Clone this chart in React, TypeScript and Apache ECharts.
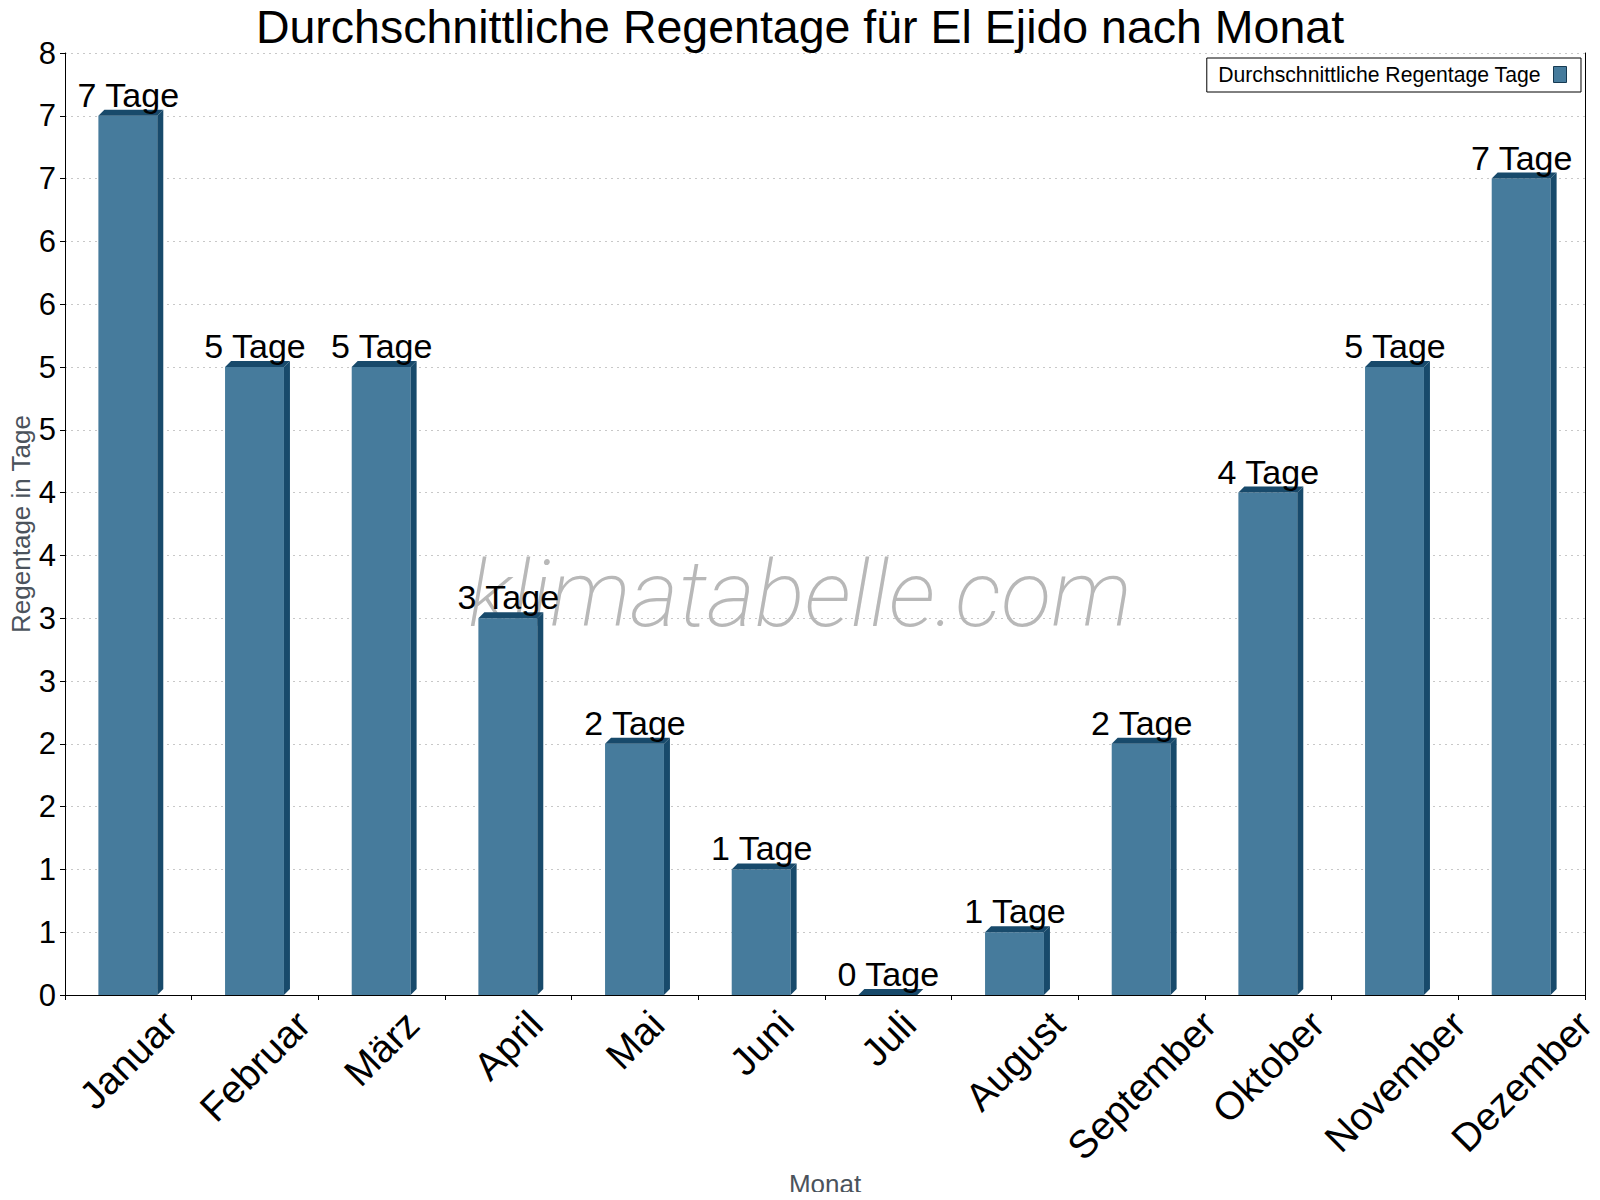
import React, { useEffect, useRef } from "react";
import * as echarts from "echarts";

// Average number of rainy days per month in El Ejido
const months = [
  "Januar", "Februar", "März", "April", "Mai", "Juni",
  "Juli", "August", "September", "Oktober", "November", "Dezember",
];
const rainDays = [7, 5, 5, 3, 2, 1, 0, 0.5, 2, 4, 5, 6.5];

const seriesName = "Durchschnittliche Regentage Tage";
const chartTitle = "Durchschnittliche Regentage für El Ejido nach Monat";
const yAxisName = "Regentage in Tage";
const xAxisName = "Monat";
const watermark = "klimatabelle.com";

const yMin = 0;
const yMax = 7.5;
const yStep = 0.5;

const FONT = "'Liberation Sans', Arial, Helvetica, sans-serif";
const FRONT = "#467b9c";
const SIDE = "#184a6b";
const DEPTH = 6;
const MONTH_FONT = 39;
const VALUE_FONT = 34;

let measureCtx: CanvasRenderingContext2D | null = null;
function textWidth(text: string, size: number): number {
  if (!measureCtx) {
    measureCtx = document.createElement("canvas").getContext("2d");
  }
  if (!measureCtx) return text.length * size * 0.55;
  measureCtx.font = `${size}px ${FONT}`;
  return measureCtx.measureText(text).width;
}

export default function App() {
  const ref = useRef<HTMLDivElement>(null);

  useEffect(() => {
    if (!ref.current) return;
    const chart = echarts.init(ref.current, undefined, { renderer: "svg" });

    const renderItem = (params: any, api: any) => {
      const idx = api.value(0) as number;
      const val = api.value(1) as number;
      const top = api.coord([idx, val]);
      const base = api.coord([idx, 0]);
      const band = api.size([1, 0])[0];
      const w = band * 0.465;
      const cx = base[0];
      const L = cx - w / 2 - 0.5;
      const R = L + w;
      const ty = top[1];
      const by = base[1];
      const name = months[idx];
      const nameLen = textWidth(name, MONTH_FONT);
      return {
        type: "group",
        children: [
          {
            type: "rect",
            shape: { x: L, y: ty, width: w, height: by - ty },
            style: { fill: FRONT },
          },
          {
            type: "polygon",
            shape: { points: [[R, ty], [R + DEPTH, ty - DEPTH], [R + DEPTH, by - DEPTH], [R, by]] },
            style: { fill: SIDE },
          },
          {
            type: "polygon",
            shape: { points: [[L, ty], [L + DEPTH, ty - DEPTH], [R + DEPTH, ty - DEPTH], [R, ty]] },
            style: { fill: SIDE },
          },
          {
            type: "text",
            x: cx,
            y: ty - DEPTH + 2,
            style: {
              text: `${Math.round(val)} Tage`,
              align: "center",
              verticalAlign: "bottom",
              fontSize: VALUE_FONT,
              fontFamily: FONT,
              fill: "#000",
            },
          },
          {
            type: "text",
            x: cx,
            y: by + 9 + (nameLen + MONTH_FONT) * 0.3536,
            rotation: Math.PI / 4,
            style: {
              text: name,
              align: "center",
              verticalAlign: "middle",
              fontSize: MONTH_FONT,
              fontFamily: FONT,
              fill: "#000",
            },
          },
        ],
      };
    };

    chart.setOption({
      animation: false,
      backgroundColor: "#fff",
      title: {
        text: chartTitle,
        left: "center",
        top: 3,
        padding: 0,
        textStyle: {
          fontSize: 46.5,
          fontWeight: "normal",
          color: "#000",
          fontFamily: FONT,
        },
      },
      legend: {
        right: 19,
        top: 58,
        align: "right",
        orient: "horizontal",
        backgroundColor: "#fff",
        borderColor: "#000",
        borderWidth: 1,
        padding: [6, 14, 7, 11],
        itemWidth: 13,
        itemHeight: 16,
        textStyle: { fontSize: 21.2, color: "#000", fontFamily: FONT, padding: [0, 8, 0, 0] },
        data: [
          {
            name: seriesName,
            icon: "rect",
            itemStyle: { color: FRONT, borderColor: "#163a52", borderWidth: 1 },
          },
        ],
      },
      grid: {
        left: 65,
        right: 15,
        top: 53,
        bottom: 205,
        containLabel: false,
        outerBoundsMode: "none",
      },
      xAxis: {
        type: "category",
        data: months,
        boundaryGap: true,
        name: xAxisName,
        nameLocation: "middle",
        nameGap: 176,
        nameMoveOverlap: false,
        nameTextStyle: { fontSize: 26, color: "#4b535c", fontFamily: FONT },
        axisLine: { show: true, lineStyle: { color: "#000", width: 1 } },
        axisTick: { show: true, length: 5, alignWithLabel: false, lineStyle: { color: "#000" } },
        axisLabel: { show: false },
        splitLine: { show: false },
      },
      yAxis: [
        {
          type: "value",
          min: yMin,
          max: yMax,
          interval: yStep,
          name: yAxisName,
          nameLocation: "middle",
          nameGap: 31,
          nameMoveOverlap: false,
          nameTextStyle: { fontSize: 26, color: "#4b535c", fontFamily: FONT },
          axisLine: { show: true, lineStyle: { color: "#000", width: 1 } },
          axisTick: { show: true, length: 5, lineStyle: { color: "#000" } },
          axisLabel: {
            fontSize: 31,
            color: "#000",
            fontFamily: FONT,
            margin: 9,
            formatter: (v: number) => String(Math.round(v)),
          },
          splitLine: { show: true, lineStyle: { color: "#c8c8c8", type: [2, 4], width: 1 } },
        },
        {
          type: "value",
          position: "right",
          min: yMin,
          max: yMax,
          interval: yStep,
          axisLine: { show: true, lineStyle: { color: "#000", width: 1 } },
          axisTick: { show: false },
          axisLabel: { show: false },
          splitLine: { show: false },
        },
      ],
      graphic: [
        {
          type: "text",
          left: "center",
          top: 548,
          z: 1,
          silent: true,
          style: {
            text: watermark,
            fontSize: 93,
            fontStyle: "italic",
            fontWeight: 200,
            fontFamily: "Roboto, 'Open Sans', sans-serif",
            fill: "#b8b8b8",
          },
        },
      ],
      series: [
        {
          type: "custom",
          name: seriesName,
          clip: false,
          z: 3,
          itemStyle: { color: FRONT },
          encode: { x: 0, y: 1 },
          data: months.map((_, i) => [i, rainDays[i]]),
          renderItem,
        },
      ],
    });

    return () => chart.dispose();
  }, []);

  return <div ref={ref} style={{ width: 1600, height: 1200, margin: -8 }} />;
}
